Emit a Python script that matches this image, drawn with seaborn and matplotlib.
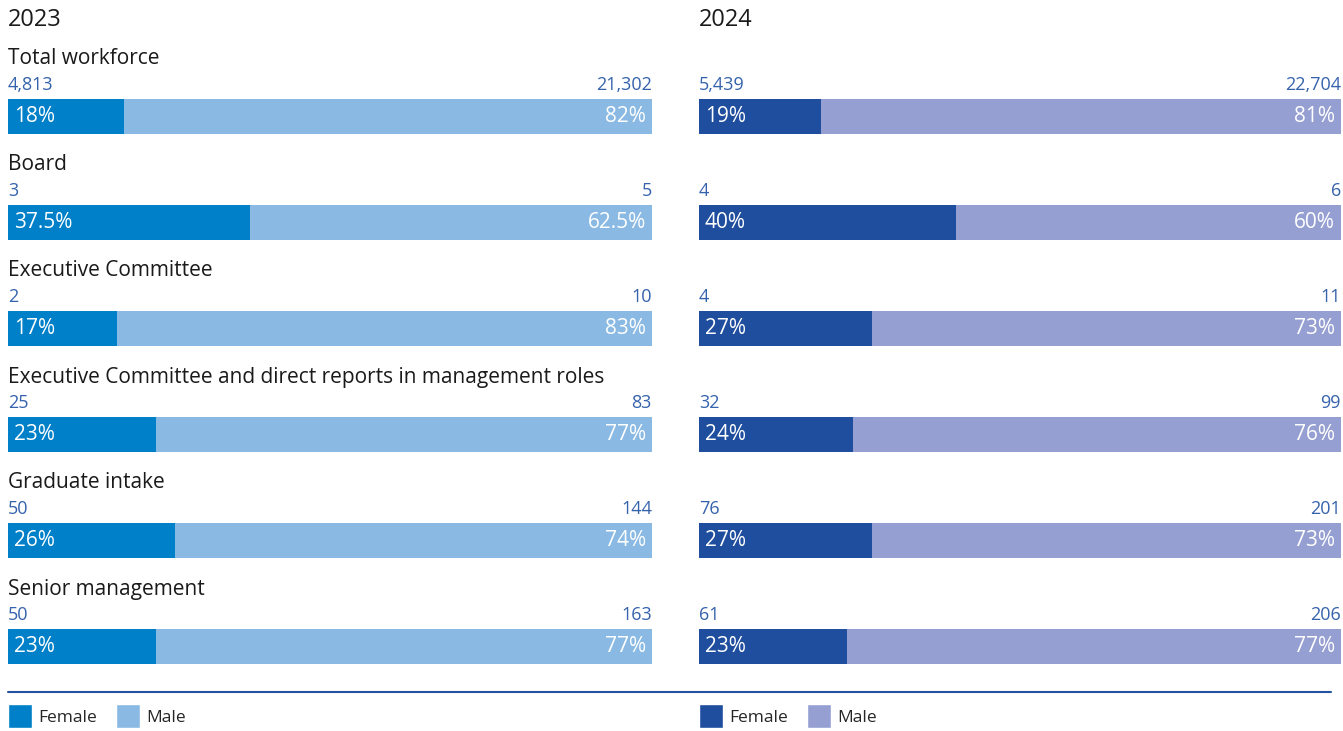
import matplotlib
matplotlib.use("Agg")
import matplotlib.pyplot as plt
import seaborn as sns
import pandas as pd
from matplotlib.patches import Patch
from matplotlib.lines import Line2D

categories = ["Total workforce", "Board", "Executive Committee",
              "Executive Committee and direct reports in management roles",
              "Graduate intake", "Senior management"]
years = ["2023", "2024"]
female_pct_2023 = [18, 37.5, 17, 23, 26, 23]
male_pct_2023 = [82, 62.5, 83, 77, 74, 77]
female_n_2023 = [4813, 3, 2, 25, 50, 50]
male_n_2023 = [21302, 5, 10, 83, 144, 163]
female_pct_2024 = [19, 40, 27, 24, 27, 23]
male_pct_2024 = [81, 60, 73, 76, 73, 77]
female_n_2024 = [5439, 4, 4, 32, 76, 61]
male_n_2024 = [22704, 6, 11, 99, 201, 206]

colors = {"2023": ("#0080C8", "#8ABAE3"), "2024": ("#1F4E9E", "#969FD1")}
num_color = "#3562AC"
FONT = "Open Sans"

sns.set_theme(style="white")
plt.rcParams["font.family"] = [FONT, "DejaVu Sans"]

W, H = 1343, 731
fig = plt.figure(figsize=(W / 100, H / 100), dpi=100)

row0 = 116.5
step = 106.0
y_top = -row0 / step
y_bot = (H - row0) / step

def pct_str(v):
    return f"{v:g}%"

panels = [
    ("2023", 8, 652, female_pct_2023, male_pct_2023, female_n_2023, male_n_2023, True),
    ("2024", 699, 1341, female_pct_2024, male_pct_2024, female_n_2024, male_n_2024, False),
]

for year, x0, x1, fp, mp, fn, mn, show_cat in panels:
    ax = fig.add_axes([x0 / W, 0, (x1 - x0) / W, 1])
    fc, mc = colors[year]
    df = pd.DataFrame({"cat": categories, "female": fp,
                       "total": [a + b for a, b in zip(fp, mp)]})
    sns.barplot(data=df, x="total", y="cat", orient="h", color=mc,
                width=35 / step, saturation=1, linewidth=0, edgecolor="none", ax=ax)
    sns.barplot(data=df, x="female", y="cat", orient="h", color=fc,
                width=35 / step, saturation=1, linewidth=0, edgecolor="none", ax=ax)
    ax.set_xlim(0, 100)
    ax.set_ylim(y_bot, y_top)
    ax.axis("off")
    ax.text(0, (20 - row0) / step, year, fontsize=17, color="#1a1a1a",
            va="center", ha="left")
    for i, cat in enumerate(categories):
        if show_cat:
            ax.text(0, i - (row0 - 59) / step, cat, fontsize=15, color="#1a1a1a",
                    va="center", ha="left", clip_on=False)
        ax.text(0, i - (row0 - 85) / step, f"{fn[i]:,}", fontsize=13,
                color=num_color, va="center", ha="left")
        ax.text(100, i - (row0 - 85) / step, f"{mn[i]:,}", fontsize=13,
                color=num_color, va="center", ha="right")
        ax.annotate(pct_str(fp[i]), (0, i), xytext=(4.3, 0),
                    textcoords="offset points", fontsize=15, color="white",
                    va="center", ha="left")
        ax.annotate(pct_str(mp[i]), (100, i), xytext=(-4.3, 0),
                    textcoords="offset points", fontsize=15, color="white",
                    va="center", ha="right")
    handles = [Patch(facecolor=fc, label="Female"), Patch(facecolor=mc, label="Male")]
    fig.legend(handles=handles, loc="center left",
               bbox_to_anchor=(x0 / W - 0.0052, 1 - 716 / H), ncol=2,
               frameon=False, fontsize=12.5, handlelength=1.4, handleheight=1.8,
               handletextpad=0.35, columnspacing=1.1, borderaxespad=0)

fig.add_artist(Line2D([8 / W, 1331 / W], [1 - 692 / H, 1 - 692 / H],
                      color="#2451A0", linewidth=1.5))

fig.savefig("out.png", dpi=100)
